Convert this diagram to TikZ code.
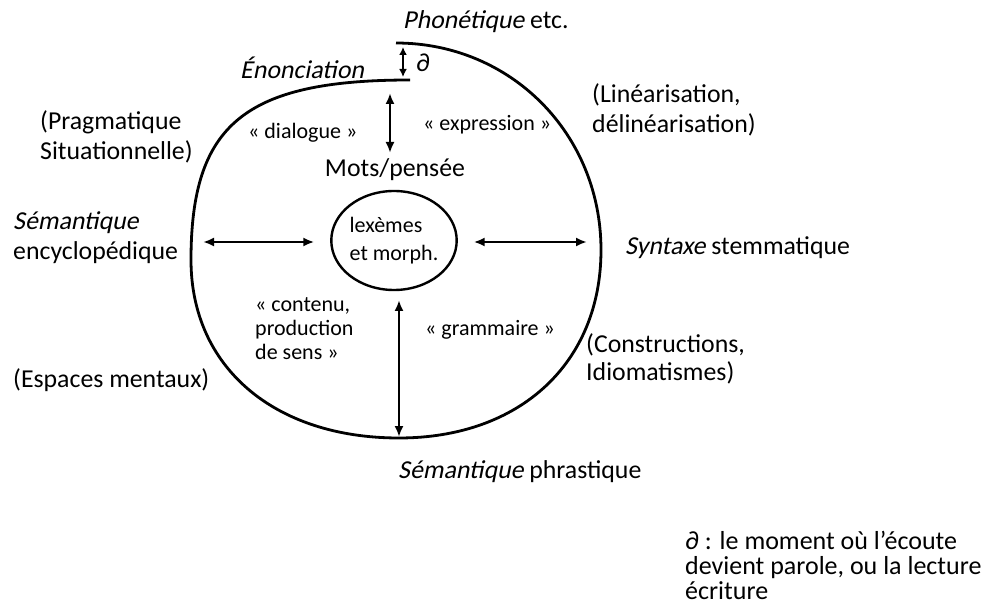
\documentclass[tikz,border=0pt]{standalone}
\usepackage{fontspec}
\setmainfont{Carlito}
\newfontfamily\penche[FakeSlant=0.2]{Carlito}
\usetikzlibrary{arrows.meta,positioning,shapes.geometric}
\newcommand{\pen}[1]{{\penche #1}}
\tikzset{
  grand/.style={inner sep=0pt, align=left, anchor=west, font=\fontsize{25.8}{30}\selectfont},
  petit/.style={inner sep=0pt, align=left, anchor=west, font=\fontsize{22}{24}\selectfont},
  arr/.style={{Latex[length=11pt,width=9pt]}-{Latex[length=11pt,width=9pt]}, line width=2.4pt},
  arrmini/.style={{Latex[length=8pt,width=8pt]}-{Latex[length=8pt,width=8pt]}, line width=2pt},
  spire/.style={line width=2.8pt},
}

\begin{document}
\begin{tikzpicture}[x=1pt,y=-1pt]
    \useasboundingbox[fill=white] (0,0) rectangle (991,612);
    % spirale ouverte en haut
    \draw[spire] (396,43) .. controls (511,43) and (601,134) .. (601,250)
      .. controls (601,363) and (520,438) .. (399,438)
      .. controls (274,438) and (191,367) .. (191,260)
      .. controls (191,125) and (244,80) .. (410,80);
    \node[draw, ellipse, line width=2.4pt, minimum width=108pt, minimum height=99pt, inner sep=0pt,
          outer xsep=17pt, outer ysep=10pt, align=left, font=\fontsize{22}{28}\selectfont] (lex)
      at (394,240.5) {lexèmes\\et morph.};
    \node[grand, anchor=center] (mots) at (395,170) {Mots/pensée};
    % textes autour
    \node[grand] (phon) at (403,22) {\pen{Phonétique} etc.};
    \node[grand] (enon) at (240,68) {\pen{Énonciation}};
    \node[grand] (eth) at (416,63) {∂};
    \node[grand] (prag) at (40,137) {(Pragmatique\\Situationnelle)};
    \node[grand] (semenc) at (13,238) {\pen{Sémantique}\\encyclopédique};
    \node[grand] (esp) at (13,380) {(Espaces mentaux)};
    \node[grand] (lin) at (592,110) {(Linéarisation,\\délinéarisation)};
    \node[grand] (synt) at (625,248) {\pen{Syntaxe} stemmatique};
    \node[grand, font=\fontsize{25.8}{28}\selectfont] (constr) at (586,359) {(Constructions,\\Idiomatismes)};
    \node[grand] (semphr) at (398,472) {\pen{Sémantique} phrastique};
    \node[petit] (dial) at (248,133) {« dialogue »};
    \node[petit] (expr) at (423,125) {« expression »};
    \node[petit] (cont) at (255,329) {« contenu,\\production\\de sens »};
    \node[petit] (gram) at (425,330) {« grammaire »};
    \node[grand, font=\fontsize{26}{25}\selectfont] (leg) at (685,565)
      {∂ : le moment où l’écoute\\devient parole, ou la lecture\\écriture};
    % fleches
    \coordinate (ethT) at (403,47); \coordinate (ethB) at (403,77);
    \coordinate (dlgT) at (390,93); \coordinate (dlgB) at (390,153);
    \coordinate (gch) at (203,242); \coordinate (drt) at (587,242);
    \coordinate (bas) at (399,437);
    \draw[arrmini] (ethT) -- (ethB);
    \draw[arr] (dlgT) -- (dlgB);
    \draw[arr] (gch) -- (lex.west |- gch);
    \draw[arr] (lex.east |- drt) -- (drt);
    \draw[arr] (lex.south -| bas) -- (bas);
\end{tikzpicture}
\end{document}
